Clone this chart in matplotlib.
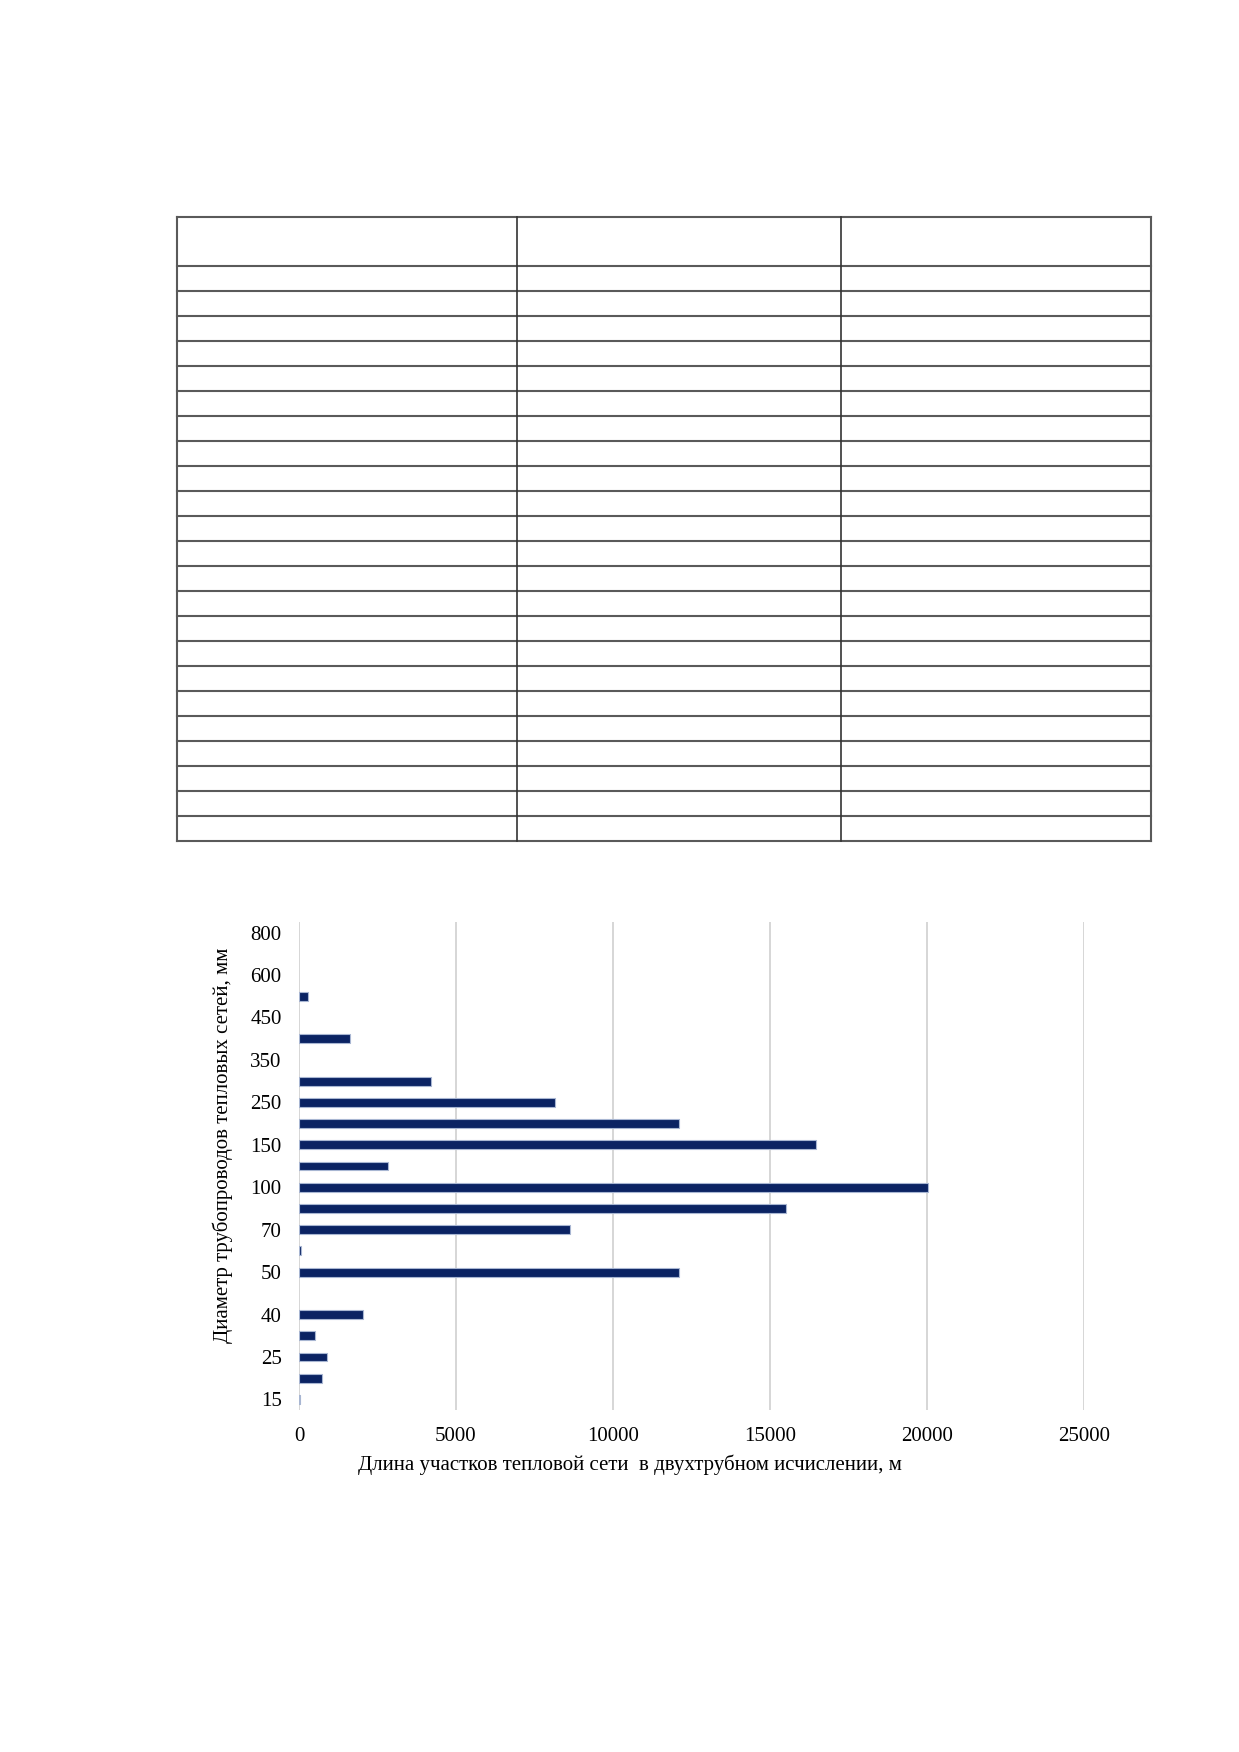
import matplotlib
matplotlib.use("Agg")
import matplotlib.pyplot as plt
from matplotlib.lines import Line2D
import numpy as np

plt.rcParams['font.family'] = ['Liberation Serif', 'DejaVu Serif']

# Diameters (mm) and lengths (m)
diameters = ["15", "20", "25", "32", "40", "45", "50", "65", "70", "80", "100", "125",
             "150", "200", "250", "300", "350", "400", "450", "500", "600", "700", "800"]
lengths = [35, 720, 905, 500, 2025, 0, 12110, 50, 8620, 15500, 20040, 2850,
           16460, 12090, 8140, 4210, 0, 1610, 0, 280, 0, 0, 0]
xticks = [0, 5000, 10000, 15000, 20000, 25000]

W, H = 1239, 1752
fig = plt.figure(figsize=(W / 100, H / 100), dpi=100)

# ---- empty table at the top ----
tab = fig.add_axes([0, 0, 1, 1])
tab.set_xlim(0, W)
tab.set_ylim(H, 0)
tab.axis('off')
t_left, t_right, t_top, t_head, t_bottom = 177, 1151, 217, 266, 841
col_div = [517, 841]
n_rows = len(diameters)
row_h = (t_bottom - t_head) / n_rows
lc = '#5a5a5a'
for y in [t_top, t_head] + [t_head + row_h * (i + 1) for i in range(n_rows)]:
    tab.add_line(Line2D([t_left, t_right], [y, y], color=lc, lw=1.5))
for x in [t_left, t_right]:
    tab.add_line(Line2D([x, x], [t_top, t_bottom], color=lc, lw=1.5))
for x in col_div:
    tab.add_line(Line2D([x, x], [t_top, t_bottom], color='#333333', lw=1.2))

# ---- bar chart ----
ax = fig.add_axes([299 / W, 1 - 1410 / H, 785 / W, 488 / H])
y = np.arange(len(diameters))
lws = [0.8 if v > 0 else 0 for v in lengths]
ax.barh(y, lengths, height=0.42, color='#0b2363', edgecolor='#a8b6d2', linewidth=lws, zorder=3)
ax.set_xlim(0, 25000)
ax.set_ylim(-0.5, len(diameters) - 0.5)
ax.set_xticks(xticks)
ax.set_xticklabels([str(v) for v in xticks], fontsize=15)
ax.set_yticks(y[::2])
ax.set_yticklabels(diameters[::2], fontsize=15)
ax.tick_params(axis='x', length=0, pad=12)
ax.tick_params(axis='y', length=0, pad=12.5)
ax.grid(axis='x', color='#d0d0d0', lw=1.2, zorder=0)
for s in ax.spines.values():
    s.set_visible(False)

fig.text(223 / W, 1 - 1145 / H, "Диаметр трубопроводов тепловых сетей, мм",
         rotation=90, ha='center', va='center', fontsize=15)
fig.text(630 / W, 1 - 1465 / H, "Длина участков тепловой сети  в двухтрубном исчислении, м",
         ha='center', va='center', fontsize=15)

fig.savefig("out.png", dpi=100, facecolor='white')
